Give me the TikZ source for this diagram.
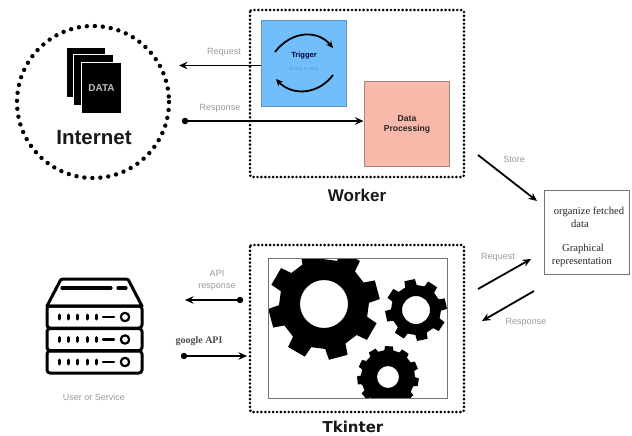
\documentclass[tikz,border=0pt]{standalone}
\usepackage{fontspec}
\setmainfont{Liberation Sans}
\newfontfamily\serifx{Liberation Serif}
\newfontfamily\dejab{DejaVu Sans}
\usetikzlibrary{arrows.meta}
\definecolor{trigblue}{HTML}{72BEFA}
\definecolor{trigedge}{HTML}{5F94BE}
\definecolor{dataPink}{HTML}{F8B8AA}
\definecolor{dataEdge}{HTML}{A8837A}
\definecolor{lab}{HTML}{9A9A9A}
\tikzset{
 dotbox/.style={draw=black,line width=2.9pt,line cap=round,dash pattern=on 0pt off 3.9pt,rounded corners=2pt},
 lbl/.style={text=lab,font=\fontsize{9}{10}\selectfont,inner sep=0pt},
 seriflbl/.style={font=\serifx\fontsize{10.6}{11}\selectfont,inner sep=0pt,text=black!85},
 conn/.style={draw=black,line width=1.8pt,-{Stealth[length=8.5pt,width=7.5pt]}},
 srv/.style={draw=black,line width=3pt,line join=round,line cap=round},
 doc/.style={fill=black,draw=white,line width=1pt},
 dotend/.style={circle,fill=black,minimum size=6.5pt,inner sep=0pt},
 title/.style={font=\bfseries,inner sep=0pt,text=black!90}
}
\newcommand{\gearat}[7]{% cx cy n root tip hole phase
 \begin{scope}[shift={(#1,#2)}]
 \fill[black,even odd rule] (#7-0.3*360/#3:#4)
 \foreach \ga in {1,...,#3} {
   -- ({#7+(\ga-1)*360/#3-0.3*360/#3}:#4)
   -- ({#7+(\ga-1)*360/#3-0.22*360/#3}:#5)
   -- ({#7+(\ga-1)*360/#3+0.22*360/#3}:#5)
   -- ({#7+(\ga-1)*360/#3+0.3*360/#3}:#4)
 } -- cycle (0,0) circle[radius=#6];
 \end{scope}}
\begin{document}
\begin{tikzpicture}[x=1pt,y=-1pt]
\useasboundingbox (0,0) rectangle (632,436);
\fill[white] (0,0) rectangle (632,436);
% Internet
\draw[line width=4.4pt,line cap=round,dash pattern=on 0pt off 8pt] (93,102) circle[radius=76];
\node[doc,minimum width=39pt,minimum height=50pt,inner sep=0pt] (d1) at (86,72.5) {};
\node[doc,minimum width=40pt,minimum height=51pt,inner sep=0pt] (d2) at (93.5,80) {};
\node[doc,minimum width=40pt,minimum height=51pt,inner sep=0pt,text=white!75!black] (d3) at (101.5,88) {\bfseries\fontsize{10}{11}\selectfont DATA};
\node[title,font=\bfseries\fontsize{20.5}{22}\selectfont] (internet) at (94,138) {Internet};
% Worker
\draw[dotbox] (250,10) rectangle (464,177);
\node[draw=trigedge,fill=trigblue,line width=1pt,minimum width=85pt,minimum height=85pt,inner sep=0pt] (trigger) at (304,63.5) {};
\node[draw=dataEdge,fill=dataPink,line width=1pt,minimum width=85pt,minimum height=84pt,inner sep=0pt] (data) at (406.5,124) {};
\node[font=\bfseries\fontsize{7.5}{8}\selectfont,inner sep=0pt,text=black!80!blue] (trigtxt) at (304,56) {Trigger};
\node[font=\fontsize{5}{6}\selectfont,inner sep=0pt,text=trigedge] (every) at (304,69) {Every n secs};
\node[font=\bfseries\fontsize{8.6}{10.5}\selectfont,align=center,inner sep=0pt,text=black!85] (dptxt) at (407,124.5) {Data\\Processing};
\draw[line width=1.8pt,-{Stealth[length=7pt,width=6.5pt]}] (275,52) .. controls (292,30) and (318,30) .. (333,48);
\draw[line width=1.8pt,-{Stealth[length=7pt,width=6.5pt]}] (333,75) .. controls (318,95) and (292,96) .. (276,79);
\node[title,font=\bfseries\fontsize{17}{18}\selectfont] (worker) at (357,195) {Worker};
% Tkinter
\draw[dotbox] (250,245) rectangle (464,412);
\node[title,font=\dejab\bfseries\fontsize{15}{16}\selectfont] (tk) at (353,426.5) {Tkinter};
\begin{scope}
\clip (268,258) rectangle (447,398);
\gearat{324}{304}{8}{45}{56}{24}{30}
\gearat{416}{310}{8}{25}{31}{14}{33}
\gearat{388}{377}{11}{27}{31}{11}{10}
\end{scope}
\node[draw=black!55,line width=1pt,minimum width=179pt,minimum height=140pt,inner sep=0pt] (frame) at (357.5,328) {};
% store box
\node[draw=black!55,fill=white,line width=1pt,minimum width=85pt,minimum height=84pt,inner sep=0pt] (store) at (586.5,232) {};
\node[seriflbl] (o1) at (589,212) {organize fetched};
\node[seriflbl] (o2) at (580,224) {data};
\node[seriflbl] (o3) at (583,249) {Graphical};
\node[seriflbl] (o4) at (582,262) {representation};
% top connectors
\node[dotend] (resdot) at (185,121) {};
\coordinate (reqend) at (179,65.5);
\draw[conn] (trigger.west |- reqend) -- (reqend);
\draw[conn] (resdot) -- (data.west |- resdot);
\node[lbl] (reqlab) at (224,52) {Request};
\node[lbl] (reslab) at (220,108) {Response};
% right connectors
\coordinate (s1) at (478,155); \coordinate (s2) at (537,201);
\coordinate (r1) at (478,289); \coordinate (r2) at (531,259);
\coordinate (p1) at (534,291); \coordinate (p2) at (482,321);
\draw[conn] (s1) -- (s2);
\draw[conn] (r1) -- (r2);
\draw[conn] (p1) -- (p2);
\node[lbl] (slab) at (514,159) {Store};
\node[lbl] (rlab) at (498,257) {Request};
\node[lbl] (plab) at (526,322) {Response};
% left lower connectors
\node[dotend] (apidot) at (240,300) {};
\coordinate (apiend) at (185,300);
\draw[conn] (apidot) -- (apiend);
\node[dotend] (godot) at (184,356) {};
\coordinate (goend) at (247,356);
\draw[conn] (godot) -- (goend);
\node[lbl,align=center,font=\fontsize{9}{12}\selectfont] (apilab) at (217,280) {API\\response};
\node[seriflbl,font=\serifx\bfseries\fontsize{10}{11}\selectfont,text=black!70] (golab) at (199,341) {google API};
% server
\draw[srv,fill=white] (47,306) -- (59,283) .. controls (60,280) and (61,279) .. (63,279) -- (126,279) .. controls (128,279) and (129,280) .. (130,283) -- (142,306) -- cycle;
\draw[srv,line width=3.2pt] (62,288) -- (111,288) (118,288) -- (126,288);
\foreach \yy in {317,339.5,362} {
 \draw[srv,rounded corners=3pt] (47,\yy-11) rectangle (142,\yy+11);
 \foreach \xx in {59,68,77,87,96} \draw[srv,line width=3pt] (\xx,\yy-2) -- (\xx,\yy+2);
 \draw[srv,line width=2.4pt] (103,\yy) -- (114,\yy);
 \draw[srv,line width=2.2pt] (125,\yy) circle[radius=4.2];
}
\node[lbl] (usr) at (94,397) {User or Service};
\end{tikzpicture}
\end{document}
